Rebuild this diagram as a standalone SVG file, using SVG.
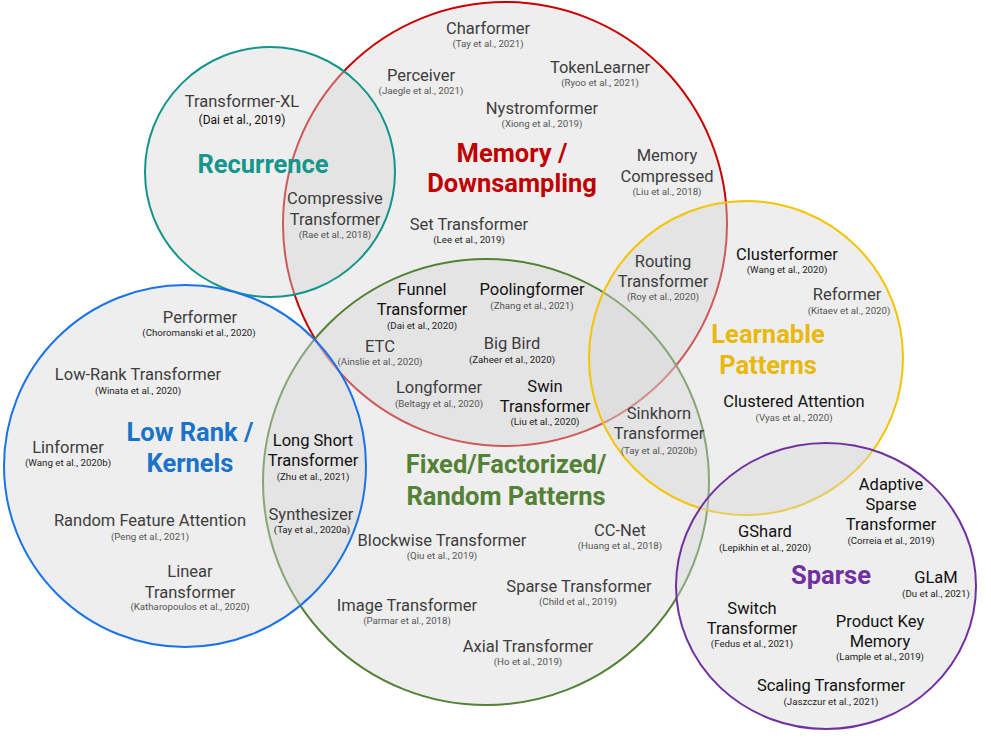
<svg xmlns="http://www.w3.org/2000/svg" width="991" height="738" viewBox="0 0 991 738">
<style>
text{font-family:Roboto,"Liberation Sans",Arial,sans-serif;text-anchor:middle}
.set{fill:#d7d7d7;fill-opacity:0.42;stroke-width:2}
.n{font-size:16.5px;fill:#3d3d3d}
.nb{font-size:16.5px;fill:#111}
.c{font-size:9.7px;fill:#555}
.cb{font-size:9.7px;fill:#222}
.t{font-size:25.5px;font-weight:bold}
</style>
<rect width="991" height="738" fill="#fff"/>
<g id="sets">
<circle id="memory-circle" class="set" cx="505" cy="224" r="222" stroke="#c80000"/>
<circle id="fixed-circle" class="set" cx="486" cy="482" r="223" stroke="#538135"/>
<circle id="recurrence-circle" class="set" cx="270" cy="172" r="125" stroke="#12968c"/>
<circle id="lowrank-circle" class="set" cx="185" cy="466" r="181" stroke="#1a73e8"/>
<circle id="learnable-circle" class="set" cx="746" cy="358" r="157" stroke="#f5c400"/>
<ellipse id="sparse-circle" class="set" cx="826" cy="586" rx="150" ry="143" stroke="#7030a0"/>
</g>
<g id="connectors"/>
<g id="titles">
<g id="title-recurrence"><text class="t" x="263" y="173" fill="#14968c">Recurrence</text></g>
<g id="title-memory"><text class="t" x="512" y="162" fill="#c00000">Memory /</text><text class="t" x="512" y="192" fill="#c00000">Downsampling</text></g>
<g id="title-lowrank"><text class="t" x="190" y="441" fill="#1a73c8">Low Rank /</text><text class="t" x="190" y="472" fill="#1a73c8">Kernels</text></g>
<g id="title-fixed"><text class="t" x="506" y="473" fill="#538135">Fixed/Factorized/</text><text class="t" x="506" y="505" fill="#538135">Random Patterns</text></g>
<g id="title-learnable"><text class="t" x="768" y="343" fill="#e8b90c">Learnable</text><text class="t" x="768" y="374" fill="#e8b90c">Patterns</text></g>
<g id="title-sparse"><text class="t" x="831" y="584" fill="#7030a0">Sparse</text></g>
</g>
<g id="items">
<g id="charformer"><text class="n" x="488" y="34">Charformer</text><text class="c" x="488" y="47">(Tay et al., 2021)</text></g>
<g id="perceiver"><text class="n" x="421" y="81">Perceiver</text><text class="c" x="421" y="94">(Jaegle et al., 2021)</text></g>
<g id="tokenlearner"><text class="n" x="600" y="73">TokenLearner</text><text class="c" x="600" y="86">(Ryoo et al., 2021)</text></g>
<g id="nystromformer"><text class="n" x="542" y="114">Nystromformer</text><text class="c" x="542" y="127">(Xiong et al., 2019)</text></g>
<g id="transformer-xl"><text class="n" x="242" y="107">Transformer-XL</text><text x="242" y="124" style="font-size:12px;fill:#111">(Dai et al., 2019)</text></g>
<g id="memory-compressed"><text class="n" x="667" y="161">Memory</text><text class="n" x="667" y="182">Compressed</text><text class="c" x="667" y="195">(Liu et al., 2018)</text></g>
<g id="compressive-transformer"><text class="n" x="335" y="204">Compressive</text><text class="n" x="335" y="225">Transformer</text><text class="c" x="335" y="238">(Rae et al., 2018)</text></g>
<g id="set-transformer"><text class="n" x="469" y="230">Set Transformer</text><text class="cb" x="469" y="243">(Lee et al., 2019)</text></g>
<g id="routing-transformer"><text class="n" x="663" y="267">Routing</text><text class="n" x="663" y="287">Transformer</text><text class="c" x="663" y="300">(Roy et al., 2020)</text></g>
<g id="clusterformer"><text class="nb" x="787" y="260">Clusterformer</text><text class="cb" x="787" y="273">(Wang et al., 2020)</text></g>
<g id="reformer"><text class="n" x="847" y="300">Reformer</text><text class="c" x="849" y="314">(Kitaev et al., 2020)</text></g>
<g id="clustered-attention"><text class="nb" x="794" y="407">Clustered Attention</text><text class="c" x="794" y="421">(Vyas et al., 2020)</text></g>
<g id="sinkhorn-transformer"><text class="n" x="659" y="419">Sinkhorn</text><text class="n" x="659" y="439">Transformer</text><text class="c" x="659" y="454">(Tay et al., 2020b)</text></g>
<g id="performer"><text class="n" x="200" y="323">Performer</text><text class="cb" x="199" y="336">(Choromanski et al., 2020)</text></g>
<g id="low-rank-transformer"><text class="n" x="138" y="380">Low-Rank Transformer</text><text class="cb" x="138" y="394">(Winata et al., 2020)</text></g>
<g id="linformer"><text class="n" x="68" y="453">Linformer</text><text class="cb" x="68" y="466">(Wang et al., 2020b)</text></g>
<g id="random-feature-attention"><text class="n" x="150" y="526">Random Feature Attention</text><text class="c" x="150" y="540">(Peng et al., 2021)</text></g>
<g id="linear-transformer"><text class="n" x="190" y="577">Linear</text><text class="n" x="190" y="598">Transformer</text><text class="c" x="190" y="610">(Katharopoulos et al., 2020)</text></g>
<g id="funnel-transformer"><text class="nb" x="422" y="295">Funnel</text><text class="nb" x="422" y="315">Transformer</text><text class="cb" x="422" y="329">(Dai et al., 2020)</text></g>
<g id="poolingformer"><text class="nb" x="532" y="295">Poolingformer</text><text class="c" x="532" y="309">(Zhang et al., 2021)</text></g>
<g id="etc"><text class="n" x="380" y="352">ETC</text><text class="c" x="380" y="365">(Ainslie et al., 2020)</text></g>
<g id="big-bird"><text class="n" x="512" y="349">Big Bird</text><text class="cb" x="512" y="363">(Zaheer et al., 2020)</text></g>
<g id="longformer"><text class="n" x="439" y="393">Longformer</text><text class="c" x="439" y="407">(Beltagy et al., 2020)</text></g>
<g id="swin-transformer"><text class="nb" x="545" y="392">Swin</text><text class="nb" x="545" y="412">Transformer</text><text class="cb" x="545" y="425">(Liu et al., 2020)</text></g>
<g id="long-short-transformer"><text class="nb" x="313" y="446">Long Short</text><text class="nb" x="313" y="466">Transformer</text><text class="cb" x="313" y="480">(Zhu et al., 2021)</text></g>
<g id="synthesizer"><text class="n" x="311" y="520">Synthesizer</text><text class="cb" x="312" y="533">(Tay et al., 2020a)</text></g>
<g id="blockwise-transformer"><text class="n" x="442" y="546">Blockwise Transformer</text><text class="c" x="442" y="559">(Qiu et al., 2019)</text></g>
<g id="cc-net"><text class="n" x="620" y="536">CC-Net</text><text class="c" x="620" y="549">(Huang et al., 2018)</text></g>
<g id="sparse-transformer"><text class="n" x="579" y="592">Sparse Transformer</text><text class="c" x="578" y="605">(Child et al., 2019)</text></g>
<g id="image-transformer"><text class="n" x="407" y="611">Image Transformer</text><text class="c" x="407" y="624">(Parmar et al., 2018)</text></g>
<g id="axial-transformer"><text class="n" x="528" y="652">Axial Transformer</text><text class="c" x="528" y="665">(Ho et al., 2019)</text></g>
<g id="adaptive-sparse-transformer"><text class="nb" x="891" y="490">Adaptive</text><text class="nb" x="891" y="510">Sparse</text><text class="nb" x="891" y="530">Transformer</text><text class="cb" x="891" y="544">(Correia et al., 2019)</text></g>
<g id="gshard"><text class="nb" x="765" y="537">GShard</text><text class="cb" x="765" y="551">(Lepikhin et al., 2020)</text></g>
<g id="glam"><text class="nb" x="936" y="583">GLaM</text><text class="cb" x="936" y="597">(Du et al., 2021)</text></g>
<g id="switch-transformer"><text class="nb" x="752" y="614">Switch</text><text class="nb" x="752" y="634">Transformer</text><text class="cb" x="752" y="647">(Fedus et al., 2021)</text></g>
<g id="product-key-memory"><text class="nb" x="880" y="627">Product Key</text><text class="nb" x="880" y="647">Memory</text><text class="cb" x="880" y="660">(Lample et al., 2019)</text></g>
<g id="scaling-transformer"><text class="nb" x="831" y="691">Scaling Transformer</text><text class="cb" x="831" y="705">(Jaszczur et al., 2021)</text></g>
</g>
</svg>
